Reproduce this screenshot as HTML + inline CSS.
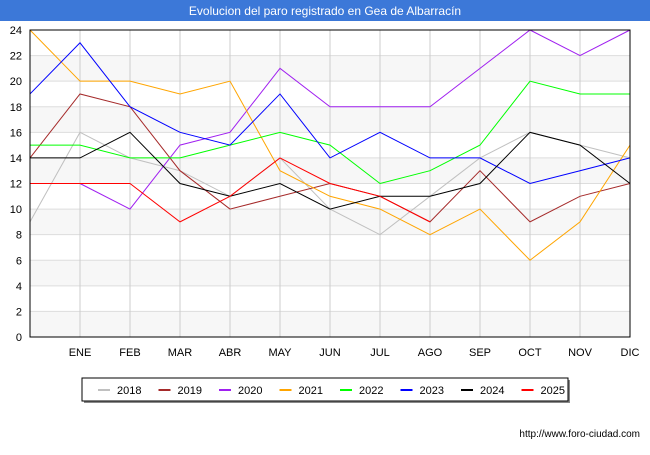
<!DOCTYPE html>
<html><head><meta charset="utf-8"><style>
body{margin:0;width:650px;height:450px;background:#fff;font-family:"Liberation Sans",sans-serif;overflow:hidden}
</style></head><body>
<svg width="650" height="450" xmlns="http://www.w3.org/2000/svg" id="chart">
<rect x="0" y="0" width="650" height="21" fill="#3c78d8"/>
<text x="325" y="15" text-anchor="middle" font-size="12" fill="#fff">Evolucion del paro registrado en Gea de Albarracín</text>
<g id="grid"></g><g id="series"></g><g id="axes"></g>
<rect x="84" y="380" width="486" height="23" fill="#888"/>
<rect x="82" y="378" width="486" height="23" fill="#fff" stroke="#000"/>
<g id="legend"></g>
<text x="640" y="437" text-anchor="end" font-size="10" fill="#000">http://www.foro-ciudad.com</text>
</svg>
<script>
const months=["","ENE","FEB","MAR","ABR","MAY","JUN","JUL","AGO","SEP","OCT","NOV","DIC"];
const yTicks=[0,2,4,6,8,10,12,14,16,18,20,22,24];
const seriesNames=["2018","2019","2020","2021","2022","2023","2024","2025"];
const seriesColors=["#c0c0c0","#a52a2a","#a020f0","#ffa500","#00ff00","#0000ff","#000000","#ff0000"];
const s2018=[9,16,14,13,11,14,10,8,11,14,16,15,14];
const s2019=[14,19,18,13,10,11,12,11,9,13,9,11,12];
const s2020=[null,12,10,15,16,21,18,18,18,21,24,22,24];
const s2021=[24,20,20,19,20,13,11,10,8,10,6,9,15];
const s2022=[15,15,14,14,15,16,15,12,13,15,20,19,19];
const s2023=[19,23,18,16,15,19,14,16,14,14,12,13,14];
const s2024=[14,14,16,12,11,12,10,11,11,12,16,15,12];
const s2025=[12,12,12,9,11,14,12,11,9];
const allSeries=[s2018,s2019,s2020,s2021,s2022,s2023,s2024,s2025];
const X0=30,X1=630,Y0=337,Y1=30;
const xs=i=>X0+i*(X1-X0)/12;
const ys=v=>Y0-v*(Y0-Y1)/24;
const NS="http://www.w3.org/2000/svg";
function mk(t,a,p){const e=document.createElementNS(NS,t);for(const k in a)e.setAttribute(k,a[k]);p.appendChild(e);return e;}
const grid=document.getElementById('grid'),axes=document.getElementById('axes'),ser=document.getElementById('series'),leg=document.getElementById('legend');
for(let i=0;i<24;i+=2){if((i/2)%2==0){const r=mk('rect',{x:X0,y:ys(i+2),width:X1-X0,height:ys(i)-ys(i+2),fill:'#f7f7f7'},grid);}}
yTicks.forEach(v=>{const l=mk('line',{x1:X0,x2:X1,y1:ys(v),y2:ys(v),stroke:'#ddd'},grid);
const t=mk('text',{x:X0-8,y:ys(v)+4,'text-anchor':'end','font-size':11},axes);t.textContent=v;});
months.forEach((m,i)=>{if(i==0)return;const l=mk('line',{x1:xs(i),x2:xs(i),y1:Y1,y2:Y0,stroke:'#ccc'},grid);
const t=mk('text',{x:xs(i),y:Y0+19,'text-anchor':'middle','font-size':11},axes);t.textContent=m;});
const fr=mk('rect',{x:X0,y:Y1,width:X1-X0,height:Y0-Y1,fill:'none',stroke:'#000'},axes);
allSeries.forEach((d,k)=>{const pts=[];d.forEach((v,i)=>{if(v!==null)pts.push(xs(i)+','+ys(v));});
const p=mk('polyline',{points:pts.join(' '),fill:'none',stroke:seriesColors[k],'stroke-width':1},ser);
const lx=90+k*60.5;const ll=mk('line',{x1:lx+8,x2:lx+20,y1:390,y2:390,stroke:seriesColors[k],'stroke-width':2},leg);
const lt=mk('text',{x:lx+27,y:394,'font-size':11},leg);lt.textContent=seriesNames[k];});
</script>
</body></html>
